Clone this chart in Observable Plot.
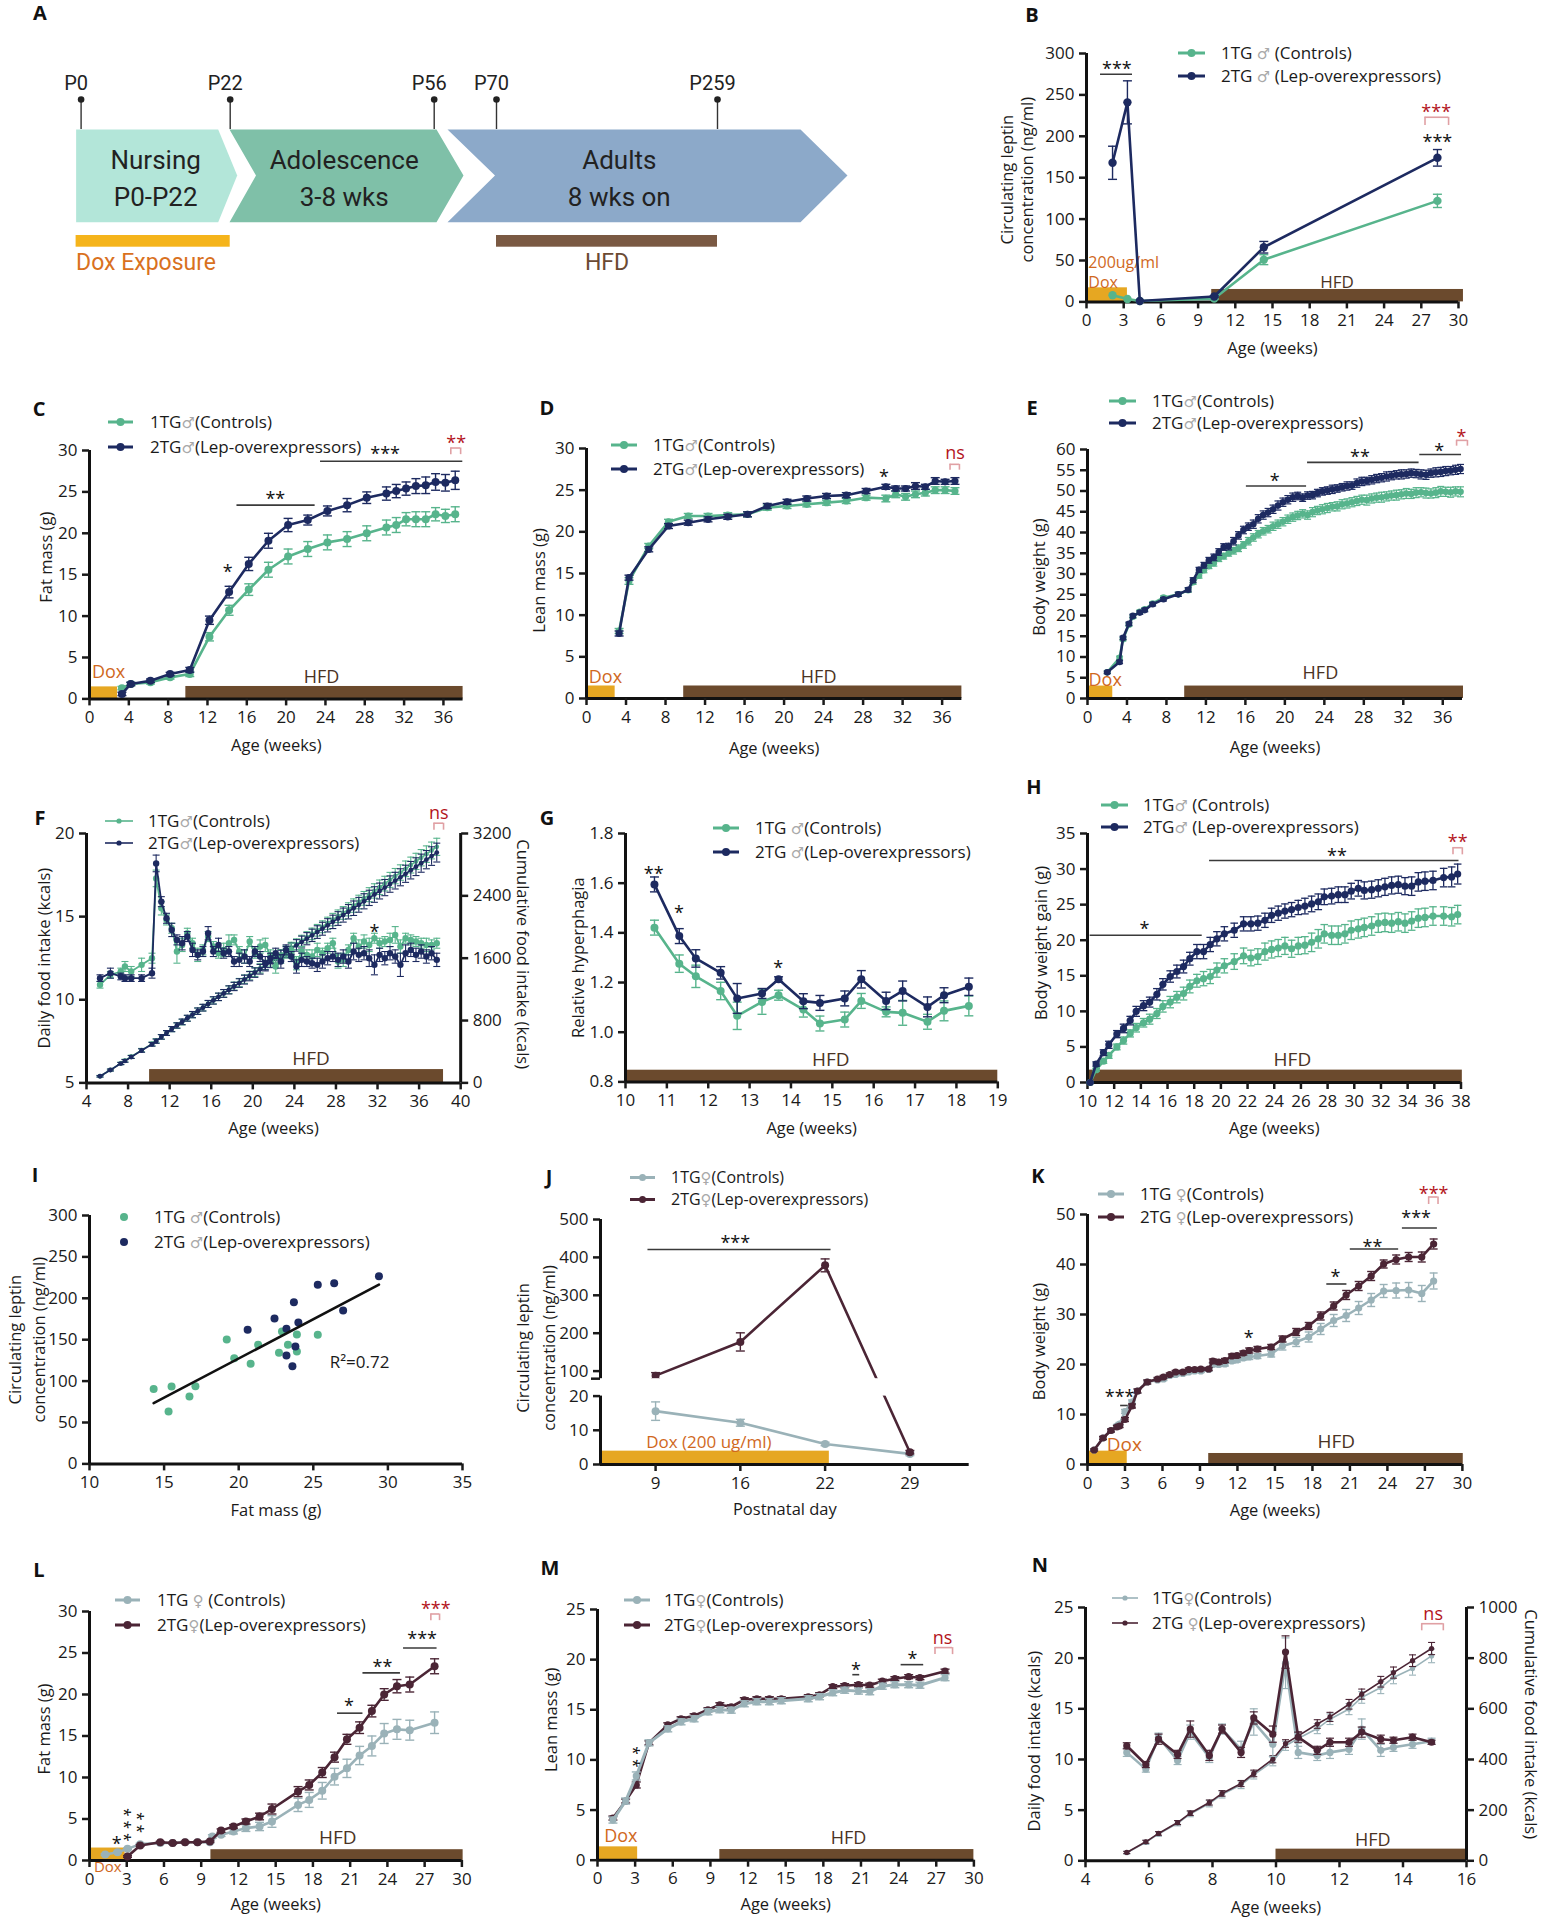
<!DOCTYPE html>
<html><head><meta charset="utf-8">
<script src="https://cdn.jsdelivr.net/npm/d3@7"></script>
<script src="https://cdn.jsdelivr.net/npm/@observablehq/plot@0.6"></script>
<style>
body{margin:0;background:#fff;}
#root{position:relative;width:1545px;height:1920px;overflow:hidden;background:#fff;font-family:"Open Sans",sans-serif;}
.pl{position:absolute;font:bold 20px "Open Sans",sans-serif;color:#111;transform:translate(-50%,-50%);line-height:1;}
.lg{position:absolute;white-space:nowrap;font:17px "Open Sans",sans-serif;color:#1a1a1a;line-height:24px;}
.sym{color:#a9a9a9;font-family:"DejaVu Sans",sans-serif;font-size:15px;}
</style></head><body><div id="root"></div>
<script>
// ======================= DATA =======================
// A – timeline
const milestoneDays = [0, 22, 56, 70, 259];
const milestoneLabels = ["P0", "P22", "P56", "P70", "P259"];
const stageNames = ["Nursing\nP0-P22", "Adolescence\n3-8 wks", "Adults\n8 wks on"];
const stageStart = [0, 22, 56];
const stageEnd = [22, 56, 259];
const stageLabelDay = [11, 41, 175];
const doxDaysA = [0, 22];
const hfdDaysA = [70, 259];

// B – circulating leptin (male)
const weeksB = [2.1, 3.3, 4.3, 10.3, 14.3, 28.3];
const ctrlB = [8, 3.5, 1, 4, 51, 122];
const ctrlErrB = [0, 0, 0, 1, 6, 8];
const lepB = [168, 241, 1, 6.5, 66, 174];
const lepErrB = [20, 26, 0, 1, 7, 10];

// C – fat mass (male)
const weeksC = [3.3, 4.2, 6.2, 8.2, 10.2, 12.2, 14.2, 16.2, 18.2, 20.2, 22.2, 24.2, 26.2, 28.2, 30.2, 31.2, 32.2, 33.2, 34.2, 35.2, 36.2, 37.2];
const ctrlC = [1.3, 1.8, 2.0, 2.6, 3.0, 7.5, 10.7, 13.2, 15.6, 17.2, 18.1, 18.9, 19.3, 20.0, 20.7, 21.0, 21.7, 21.7, 21.7, 22.3, 22.1, 22.3];
const ctrlErrC = [0.2, 0.2, 0.2, 0.2, 0.3, 0.5, 0.6, 0.7, 0.9, 0.9, 0.9, 0.9, 0.9, 0.9, 0.9, 0.9, 0.8, 0.9, 0.9, 0.8, 0.8, 0.9];
const lepC = [0.6, 1.8, 2.2, 3.0, 3.5, 9.5, 12.9, 16.3, 19.1, 21.0, 21.6, 22.7, 23.4, 24.3, 24.8, 25.1, 25.4, 25.7, 25.8, 26.2, 26.1, 26.4];
const lepErrC = [0.2, 0.2, 0.2, 0.2, 0.3, 0.5, 0.7, 0.8, 0.9, 0.8, 0.6, 0.6, 0.8, 0.7, 0.8, 0.8, 0.8, 0.9, 1.0, 1.0, 1.0, 1.1];

// D – lean mass (male)
const weeksD = [3.3, 4.3, 6.3, 8.3, 10.3, 12.3, 14.3, 16.3, 18.3, 20.3, 22.3, 24.3, 26.3, 28.3, 30.3, 31.3, 32.3, 33.3, 34.3, 35.3, 36.3, 37.3];
const ctrlD = [8.1, 14.1, 18.3, 21.2, 21.9, 21.9, 22.0, 22.1, 22.9, 23.1, 23.3, 23.5, 23.7, 24.1, 24.0, 24.5, 24.2, 24.5, 24.7, 25.0, 25.0, 24.9];
const ctrlErrD = [0.3, 0.4, 0.3, 0.3, 0.3, 0.3, 0.3, 0.3, 0.3, 0.3, 0.3, 0.3, 0.3, 0.3, 0.4, 0.4, 0.4, 0.4, 0.4, 0.4, 0.4, 0.4];
const lepD = [7.8, 14.5, 17.9, 20.7, 21.1, 21.5, 21.8, 22.1, 23.1, 23.6, 24.0, 24.3, 24.4, 24.9, 25.4, 25.2, 25.2, 25.5, 25.4, 26.1, 26.0, 26.1];
const lepErrD = [0.3, 0.3, 0.3, 0.3, 0.3, 0.3, 0.3, 0.3, 0.3, 0.3, 0.3, 0.3, 0.3, 0.3, 0.3, 0.3, 0.3, 0.4, 0.3, 0.4, 0.3, 0.4];

// E – body weight (male)
const weeksE = [2.0, 3.25, 3.6, 4.2, 4.6, 5.3, 5.8, 6.6, 7.7, 9.2, 10.2, 10.7, 11.3,
  11.8, 12.3, 12.8, 13.3, 13.8, 14.3, 14.8, 15.3, 15.8, 16.3, 16.8, 17.3, 17.8, 18.3, 18.8, 19.3, 19.8, 20.3, 20.8, 21.3, 21.8, 22.3, 22.8, 23.3, 23.8, 24.3, 24.8, 25.3, 25.8, 26.3, 26.8, 27.3, 27.8, 28.3, 28.8, 29.3, 29.8, 30.3, 30.8, 31.3, 31.8, 32.3, 32.8, 33.3, 33.8, 34.3, 34.8, 35.3, 35.8, 36.3, 36.8, 37.3, 37.8];
const ctrlE = [6.3, 9.8, 14.3, 17.8, 19.7, 20.9, 21.5, 22.9, 24.3, 25.1, 26.1, 28.0, 29.6,
  30.9, 31.9, 32.6, 33.7, 34.3, 35.0, 35.6, 36.2, 37.0, 37.9, 38.8, 39.6, 40.3, 40.8, 41.5, 42.0, 42.6, 43.2, 43.7, 44.1, 44.5, 44.2, 44.9, 45.3, 45.6, 45.9, 46.2, 46.3, 46.8, 47.0, 47.3, 47.6, 47.9, 47.8, 48.2, 48.4, 48.5, 48.7, 48.9, 49.0, 49.2, 49.4, 49.3, 49.6, 49.7, 49.5, 49.4, 49.6, 49.9, 49.8, 49.7, 49.9, 49.8];
const ctrlErrE = [0.3, 0.4, 0.4, 0.4, 0.4, 0.4, 0.4, 0.4, 0.4, 0.5, 0.5, 0.5, 0.6,
  0.6, 0.6, 0.7, 0.7, 0.7, 0.7, 0.8, 0.8, 0.8, 0.9, 0.9, 0.9, 0.9, 0.9, 1.0, 1.0, 1.0, 1.0, 1.0, 1.0, 1.0, 1.0, 1.1, 1.0, 1.1, 1.1, 1.0, 1.1, 1.1, 1.1, 1.1, 1.1, 1.1, 1.2, 1.1, 1.1, 1.2, 1.1, 1.1, 1.2, 1.1, 1.2, 1.1, 1.2, 1.1, 1.2, 1.1, 1.2, 1.2, 1.1, 1.2, 1.1, 1.2];
const lepE = [6.3, 8.8, 14.6, 18.0, 19.9, 20.7, 21.3, 22.7, 23.9, 25.1, 26.2, 28.5, 31.0,
  32.1, 33.3, 34.0, 35.3, 36.5, 36.6, 37.9, 39.3, 40.6, 41.4, 42.0, 43.3, 44.2, 44.8, 45.6, 46.5, 47.3, 47.9, 48.5, 48.8, 48.4, 48.9, 49.0, 49.5, 49.9, 50.1, 50.4, 50.6, 50.9, 51.2, 51.3, 51.9, 52.3, 52.4, 52.7, 53.0, 53.2, 53.5, 53.7, 53.9, 54.0, 54.1, 54.3, 54.2, 54.0, 53.9, 54.3, 54.5, 54.6, 54.8, 54.9, 55.1, 55.3];
const lepErrE = [0.3, 0.4, 0.4, 0.4, 0.4, 0.4, 0.4, 0.4, 0.4, 0.5, 0.5, 0.6, 0.6,
  0.7, 0.7, 0.8, 0.8, 0.8, 0.8, 0.9, 0.9, 0.9, 0.9, 1.0, 1.0, 1.0, 1.0, 1.0, 1.1, 1.0, 1.0, 1.0, 0.9, 0.9, 0.9, 0.9, 0.9, 0.9, 0.9, 1.0, 0.9, 0.9, 1.0, 0.9, 1.0, 1.0, 0.9, 1.0, 1.0, 1.0, 1.1, 1.0, 1.0, 1.1, 1.0, 1.0, 1.0, 1.1, 1.1, 1.0, 1.1, 1.1, 1.1, 1.0, 1.1, 1.1];

// F – daily & cumulative food intake (male)
const weeksF = [5.3, 6.3, 7.3, 7.7, 8.3, 9.3, 10.3, 10.7,
  11.2, 11.7, 12.2, 12.7, 13.2, 13.7, 14.2, 14.7, 15.2, 15.7, 16.2, 16.7, 17.2, 17.7, 18.2, 18.7, 19.2, 19.7, 20.2, 20.7, 21.2, 21.7, 22.2, 22.7, 23.2, 23.7, 24.2, 24.7, 25.2, 25.7, 26.2, 26.7, 27.2, 27.7, 28.2, 28.7, 29.2, 29.7, 30.2, 30.7, 31.2, 31.7, 32.2, 32.7, 33.2, 33.7, 34.2, 34.7, 35.2, 35.7, 36.2, 36.7, 37.2, 37.7];
const ctrlDailyF = [10.9, 11.5, 11.7, 12.0, 11.7, 12.1, 12.5, 17.3,
  15.5, 14.8, 14.3, 12.9, 13.3, 14.0, 13.4, 12.7, 13.0, 13.8, 13.2, 12.8, 13.0, 13.4, 13.6, 12.9, 12.6, 13.5, 12.8, 13.2, 13.3, 12.7, 12.0, 12.5, 12.8, 13.0, 12.2, 12.9, 12.7, 12.6, 13.0, 12.8, 13.1, 13.4, 12.3, 12.4, 13.0, 13.7, 13.2, 13.5, 13.3, 13.7, 13.4, 13.5, 13.6, 13.9, 13.2, 13.7, 13.6, 13.5, 13.4, 13.3, 13.3, 13.4];
const ctrlDailyErrF = [0.2, 0.2, 0.2, 0.3, 0.3, 0.4, 0.3, 0.5,
  0.4, 0.3, 0.3, 0.7, 0.4, 0.3, 0.3, 0.4, 0.3, 0.3, 0.3, 0.3, 0.4, 0.5, 0.3, 0.3, 0.4, 0.3, 0.3, 0.4, 0.4, 0.3, 0.4, 0.3, 0.3, 0.4, 0.4, 0.3, 0.3, 0.4, 0.4, 0.3, 0.3, 0.3, 0.4, 0.4, 0.3, 0.3, 0.4, 0.4, 0.4, 0.3, 0.3, 0.3, 0.4, 0.5, 0.4, 0.3, 0.3, 0.3, 0.3, 0.4, 0.3, 0.3];
const lepDailyF = [11.3, 11.6, 11.4, 11.3, 11.3, 11.3, 11.6, 18.2,
  15.9, 14.9, 14.2, 13.6, 13.4, 13.8, 13.0, 12.7, 12.9, 14.0, 12.9, 13.3, 12.8, 12.9, 12.3, 12.4, 12.6, 12.3, 12.9, 12.6, 12.2, 12.5, 12.8, 12.3, 13.0, 12.6, 12.0, 12.4, 12.3, 12.2, 12.1, 12.3, 12.5, 12.6, 12.4, 12.6, 12.3, 12.9, 12.7, 12.8, 12.5, 12.1, 12.7, 12.5, 12.8, 12.6, 12.1, 12.8, 13.0, 12.7, 12.9, 12.6, 12.8, 12.4];
const lepDailyErrF = [0.2, 0.3, 0.2, 0.2, 0.2, 0.2, 0.3, 0.5,
  0.3, 0.3, 0.4, 0.3, 0.4, 0.3, 0.4, 0.3, 0.3, 0.4, 0.3, 0.4, 0.3, 0.3, 0.3, 0.4, 0.4, 0.3, 0.3, 0.3, 0.4, 0.3, 0.3, 0.4, 0.3, 0.3, 0.4, 0.4, 0.3, 0.3, 0.4, 0.4, 0.4, 0.3, 0.4, 0.4, 0.4, 0.5, 0.4, 0.4, 0.5, 0.6, 0.4, 0.4, 0.4, 0.4, 0.7, 0.5, 0.4, 0.4, 0.4, 0.4, 0.4, 0.4];
const ctrlCumF = [85, 165, 250, 285, 335, 420, 500, 540,
  590, 640, 690, 735, 780, 828, 875, 920, 965, 1012, 1058, 1103, 1148, 1195, 1242, 1287, 1331, 1378, 1423, 1469, 1515, 1560, 1602, 1646, 1691, 1736, 1779, 1824, 1868, 1912, 1958, 2003, 2048, 2095, 2138, 2181, 2227, 2275, 2321, 2368, 2415, 2463, 2510, 2557, 2605, 2653, 2699, 2747, 2795, 2842, 2889, 2935, 2982, 3029];
const ctrlCumErrF = [10, 12, 15, 18, 20, 22, 25, 27,
  30, 31, 33, 35, 36, 37, 39, 41, 42, 43, 45, 47, 48, 49, 51, 53, 54, 55, 57, 59, 60, 61, 63, 64, 66, 68, 69, 70, 72, 74, 75, 76, 78, 80, 81, 82, 84, 86, 87, 88, 90, 92, 93, 94, 96, 98, 99, 100, 102, 104, 105, 106, 108, 110];
const lepCumF = [85, 165, 248, 282, 332, 415, 495, 535,
  590, 640, 690, 737, 783, 830, 876, 920, 965, 1013, 1058, 1104, 1148, 1193, 1237, 1281, 1325, 1369, 1414, 1458, 1501, 1545, 1590, 1633, 1678, 1722, 1764, 1807, 1850, 1893, 1935, 1978, 2022, 2066, 2109, 2153, 2196, 2241, 2285, 2330, 2374, 2417, 2462, 2506, 2551, 2595, 2638, 2683, 2729, 2774, 2819, 2864, 2910, 2955];
const lepCumErrF = [10, 12, 14, 17, 19, 22, 24, 27,
  29, 31, 33, 34, 36, 38, 40, 41, 43, 45, 47, 48, 50, 52, 53, 55, 57, 59, 60, 62, 64, 66, 67, 69, 71, 72, 74, 76, 78, 79, 81, 83, 85, 86, 88, 90, 92, 93, 95, 97, 98, 100, 102, 104, 105, 107, 109, 110, 112, 114, 116, 117, 119, 121];

// G – relative hyperphagia (male)
const weeksG = [10.7, 11.3, 11.7, 12.3, 12.7, 13.3, 13.7, 14.3, 14.7, 15.3, 15.7, 16.3, 16.7, 17.3, 17.7, 18.3];
const ctrlG = [1.421, 1.276, 1.225, 1.166, 1.066, 1.122, 1.149, 1.091, 1.035, 1.051, 1.126, 1.082, 1.078, 1.042, 1.086, 1.106];
const ctrlErrG = [0.03, 0.035, 0.045, 0.035, 0.055, 0.05, 0.02, 0.03, 0.03, 0.03, 0.03, 0.02, 0.05, 0.03, 0.04, 0.04];
const lepG = [1.595, 1.387, 1.297, 1.239, 1.136, 1.156, 1.213, 1.125, 1.118, 1.136, 1.213, 1.126, 1.166, 1.102, 1.149, 1.183];
const lepErrG = [0.03, 0.03, 0.035, 0.025, 0.06, 0.02, 0.01, 0.03, 0.03, 0.03, 0.035, 0.035, 0.04, 0.04, 0.03, 0.035];

// H – body weight gain (male)
const weeksH = [10.2, 10.65, 11.2, 11.6, 12.2, 12.7, 13.2, 13.65, 14.2, 14.66, 15.2, 15.65, 16.2, 16.7, 17.2, 17.67, 18.2, 18.7, 19.2, 19.7, 20.26, 21.0, 21.7, 22.25, 22.77, 23.3, 23.8, 24.3, 24.8, 25.3, 25.8, 26.3, 26.8, 27.3, 27.75, 28.3, 28.8, 29.3, 29.77, 30.3, 30.75, 31.3, 31.8, 32.3, 32.8, 33.3, 33.8, 34.3, 34.8, 35.3, 35.9, 36.7, 37.3, 37.75];
const ctrlH = [0, 1.8, 3.0, 3.8, 5.0, 5.9, 6.9, 7.7, 8.4, 8.9, 9.7, 10.7, 11.3, 12.0, 12.5, 13.5, 14.3, 14.6, 14.9, 15.8, 16.4, 17.0, 17.8, 17.5, 17.7, 18.4, 18.7, 18.9, 19.2, 18.8, 19.2, 19.3, 19.7, 20.2, 20.9, 20.7, 20.7, 20.9, 21.4, 21.6, 21.8, 22.0, 22.4, 22.5, 22.4, 22.6, 22.4, 22.7, 23.1, 23.2, 23.4, 23.4, 23.3, 23.6];
const ctrlErrH = [0.1, 0.2, 0.3, 0.4, 0.4, 0.5, 0.5, 0.6, 0.6, 0.7, 0.7, 0.8, 0.8, 0.8, 0.9, 0.9, 0.9, 1.0, 1.0, 1.0, 1.0, 1.1, 1.1, 1.1, 1.1, 1.2, 1.2, 1.2, 1.2, 1.2, 1.2, 1.2, 1.3, 1.3, 1.3, 1.3, 1.3, 1.3, 1.3, 1.3, 1.3, 1.3, 1.3, 1.3, 1.3, 1.3, 1.3, 1.3, 1.3, 1.3, 1.3, 1.3, 1.3, 1.3];
const lepH = [0, 2.6, 4.2, 5.3, 6.8, 7.6, 8.7, 10.0, 10.8, 11.3, 12.4, 13.8, 14.9, 15.6, 16.3, 17.4, 18.4, 18.4, 19.4, 20.2, 20.9, 21.4, 22.3, 22.3, 22.4, 22.8, 23.5, 23.8, 24.1, 24.3, 24.6, 24.8, 25.1, 25.4, 26.1, 26.2, 26.4, 26.4, 26.9, 27.3, 27.0, 27.1, 27.3, 27.5, 27.7, 27.8, 27.6, 27.6, 28.2, 28.3, 28.4, 28.8, 28.9, 29.3];
const lepErrH = [0.1, 0.3, 0.4, 0.5, 0.5, 0.6, 0.6, 0.7, 0.7, 0.7, 0.8, 0.8, 0.8, 0.9, 0.9, 0.9, 1.0, 1.0, 1.0, 1.0, 1.0, 1.0, 1.0, 1.0, 1.0, 1.0, 1.0, 1.0, 1.0, 1.0, 1.0, 1.1, 1.1, 1.1, 1.1, 1.1, 1.1, 1.1, 1.1, 1.1, 1.2, 1.2, 1.2, 1.2, 1.2, 1.2, 1.2, 1.3, 1.3, 1.3, 1.3, 1.3, 1.4, 1.4];

// I – leptin vs fat mass scatter (male)
const fatCtrlI = [14.3, 15.5, 15.3, 16.7, 17.1, 19.2, 19.7, 20.8, 21.3, 22.7, 22.9, 23.3, 23.9, 23.9, 25.3];
const leptinCtrlI = [90.6, 93.4, 63.2, 81.4, 93.8, 150.2, 127.7, 120.8, 143.8, 134.1, 159.9, 143.8, 156.3, 135.7, 155.9];
const fatLepI = [20.6, 22.4, 23.2, 23.2, 23.7, 23.6, 23.8, 24.0, 25.3, 26.4, 27.0, 29.4];
const leptinLepI = [161.9, 175.6, 163.1, 130.9, 195.3, 118.0, 141.8, 170.8, 216.3, 218.3, 185.3, 226.7];

// J – circulating leptin (female pups)
const daysJ = ["9", "16", "22", "29"];
const ctrlJ = [15.6, 12.2, 6.0, 3.1];
const ctrlErrJ = [2.7, 1.0, 0.5, 0.5];
const lepJ = [88, 177, 379, 3.6];
const lepErrJ = [8, 24, 17, 0.5];

// K – body weight (female)
const weeksK = [0.53, 1.24, 1.88, 2.35, 2.57, 3.0, 3.56, 4.0, 4.78, 5.6, 6.08, 6.58, 7.05, 7.63, 8.1, 8.57, 9.07, 9.7, 10.03, 10.5, 11.0, 11.55, 11.97, 12.47, 12.94, 13.6, 14.7, 15.6, 16.7, 17.7, 18.66, 19.7, 20.7, 21.7, 22.7, 23.7, 24.7, 25.7, 26.75, 27.7];
const ctrlK = [2.9, 5.3, 6.8, 7.7, 8.1, 10.6, 12.5, 14.7, 16.5, 16.9, 17.1, 17.8, 18.0, 18.2, 18.5, 18.7, 18.7, 19.0, 20.0, 20.0, 20.1, 20.7, 20.9, 21.3, 21.5, 21.7, 22.1, 23.7, 24.5, 25.5, 27.1, 28.8, 29.8, 31.3, 32.9, 34.7, 34.8, 34.9, 34.2, 36.7];
const ctrlErrK = [0.2, 0.3, 0.3, 0.3, 0.3, 0.4, 0.4, 0.4, 0.4, 0.3, 0.3, 0.3, 0.3, 0.3, 0.3, 0.3, 0.3, 0.3, 0.4, 0.4, 0.4, 0.4, 0.4, 0.4, 0.5, 0.5, 0.6, 0.8, 0.9, 1.0, 1.1, 1.2, 1.2, 1.3, 1.3, 1.3, 1.5, 1.5, 1.6, 1.6];
const lepK = [2.9, 5.3, 6.8, 7.5, 7.7, 9.0, 11.7, 14.7, 16.5, 17.1, 17.5, 18.0, 18.5, 18.5, 19.0, 19.0, 19.1, 19.1, 20.7, 20.5, 20.8, 21.7, 21.8, 22.3, 22.8, 23.1, 23.5, 25.1, 26.5, 27.7, 29.7, 31.7, 33.9, 35.7, 37.7, 40.1, 41.0, 41.5, 41.5, 44.1];
const lepErrK = [0.2, 0.3, 0.3, 0.3, 0.3, 0.4, 0.4, 0.4, 0.4, 0.3, 0.3, 0.3, 0.3, 0.3, 0.3, 0.3, 0.3, 0.3, 0.4, 0.4, 0.4, 0.4, 0.4, 0.4, 0.5, 0.5, 0.5, 0.6, 0.7, 0.7, 0.8, 0.8, 0.9, 0.9, 0.9, 0.8, 0.9, 0.9, 1.0, 1.0];

// L – fat mass (female)
const weeksCtrlL = [1.26, 2.26, 3.06, 4.08, 5.7, 6.7, 7.7, 8.7, 9.7, 9.9, 10.6, 11.6, 12.6, 13.7, 14.7, 16.8, 17.7, 18.75, 19.74, 20.74, 21.76, 22.75, 23.74, 24.77, 25.8, 27.8];
const ctrlL = [0.72, 1.0, 1.4, 1.97, 2.1, 2.1, 2.2, 2.2, 2.2, 2.9, 3.1, 3.5, 3.9, 4.1, 4.7, 6.7, 7.3, 8.4, 10.1, 11.1, 12.65, 13.8, 15.3, 15.8, 15.7, 16.6];
const ctrlErrL = [0.1, 0.1, 0.1, 0.1, 0.1, 0.1, 0.1, 0.1, 0.1, 0.2, 0.2, 0.3, 0.4, 0.5, 0.7, 0.8, 0.9, 1.0, 1.0, 1.1, 1.1, 1.2, 1.2, 1.2, 1.2, 1.3];
const weeksLepL = [3.06, 4.08, 5.7, 6.7, 7.7, 8.7, 9.7, 10.6, 11.6, 12.6, 13.7, 14.7, 16.8, 17.7, 18.75, 19.74, 20.74, 21.76, 22.75, 23.74, 24.77, 25.8, 27.8];
const lepL = [0.48, 1.8, 2.2, 2.1, 2.2, 2.2, 2.3, 3.6, 4.1, 4.7, 5.3, 6.2, 8.3, 9.1, 10.6, 12.45, 14.6, 16.0, 18.0, 20.0, 21.0, 21.2, 23.4];
const lepErrL = [0.1, 0.1, 0.1, 0.1, 0.1, 0.1, 0.1, 0.2, 0.2, 0.3, 0.4, 0.6, 0.6, 0.6, 0.6, 0.6, 0.6, 0.7, 0.7, 0.7, 0.8, 0.9, 0.9];

// M – lean mass (female)
const weeksM = [1.23, 2.24, 3.09, 4.1, 5.6, 6.66, 7.7, 8.8, 9.75, 10.66, 11.7, 12.7, 13.7, 14.65, 16.8, 17.7, 18.75, 19.7, 20.8, 21.7, 22.7, 23.7, 24.8, 25.7, 27.7];
const ctrlM = [4.0, 5.9, 8.4, 11.7, 13.1, 13.8, 14.1, 14.8, 15.0, 14.96, 15.6, 15.8, 15.8, 15.9, 16.1, 16.3, 16.7, 16.95, 16.86, 16.8, 17.35, 17.5, 17.5, 17.45, 18.2];
const ctrlErrM = [0.3, 0.3, 0.4, 0.3, 0.3, 0.3, 0.3, 0.3, 0.3, 0.3, 0.3, 0.3, 0.3, 0.3, 0.3, 0.3, 0.3, 0.3, 0.3, 0.3, 0.3, 0.3, 0.3, 0.3, 0.3];
const lepM = [4.2, 5.9, 7.5, 11.7, 13.5, 14.1, 14.4, 15.0, 15.5, 15.3, 16.0, 16.1, 16.1, 16.1, 16.3, 16.5, 17.3, 17.4, 17.5, 17.45, 17.85, 18.1, 18.3, 18.2, 18.85];
const lepErrM = [0.2, 0.2, 0.3, 0.2, 0.2, 0.2, 0.2, 0.2, 0.2, 0.2, 0.2, 0.2, 0.2, 0.2, 0.2, 0.2, 0.2, 0.2, 0.2, 0.2, 0.2, 0.2, 0.2, 0.2, 0.2];

// N – daily & cumulative food intake (female)
const weeksN = [5.3, 5.9, 6.3, 6.9, 7.3, 7.9, 8.3, 8.9, 9.3, 9.9, 10.3, 10.7, 11.3, 11.7, 12.3, 12.7, 13.3, 13.7, 14.3, 14.9];
const ctrlDailyN = [10.7, 9.05, 12.2, 9.9, 12.7, 10.2, 13.0, 11.0, 13.7, 11.5, 19.5, 10.7, 10.4, 10.7, 11.0, 13.0, 10.9, 11.2, 11.5, 11.8];
const ctrlDailyErrN = [0.4, 0.3, 0.4, 0.4, 0.7, 0.5, 0.5, 0.8, 1.3, 1.2, 2.5, 0.6, 0.5, 0.6, 0.5, 1.0, 0.6, 0.4, 0.4, 0.3];
const lepDailyN = [11.35, 9.5, 12.0, 10.5, 13.0, 10.4, 13.0, 10.7, 14.1, 12.5, 20.6, 12.2, 10.9, 11.7, 11.7, 12.7, 12.0, 11.9, 12.2, 11.7];
const lepDailyErrN = [0.3, 0.3, 0.5, 0.4, 0.8, 0.5, 0.4, 0.5, 0.6, 0.8, 1.6, 0.5, 0.4, 0.4, 0.4, 0.5, 0.4, 0.3, 0.3, 0.2];
const ctrlCumN = [32, 73, 106, 148, 185, 226, 262, 300, 339, 392, 454, 483, 522, 559, 599, 645, 684, 724, 759, 809];
const ctrlCumErrN = [6, 8, 9, 10, 11, 13, 14, 15, 16, 17, 18, 19, 20, 21, 22, 23, 24, 25, 26, 27];
const lepCumN = [33, 75, 108, 151, 188, 230, 266, 305, 345, 401, 463, 493, 540, 568, 618, 658, 707, 743, 790, 838];
const lepCumErrN = [4, 6, 7, 8, 9, 10, 11, 12, 13, 14, 15, 16, 17, 18, 19, 20, 21, 22, 23, 24];

// tick values
const ticks0to30by3 = [0, 3, 6, 9, 12, 15, 18, 21, 24, 27, 30];
const ticks0to36by4 = [0, 4, 8, 12, 16, 20, 24, 28, 32, 36];

// ======================= STYLE =======================
const COL = {green: "#57b48c", navy: "#1d2a60", grey: "#9ab2b8", maroon: "#4b2535",
  dox: "#e6a722", hfd: "#6b4a2d", doxTxt: "#d0681d", hfdTxt: "#4a3324", red: "#b3141c", redBr: "#e0a0a4"};
const STYLE = {fontFamily: '"Open Sans", sans-serif', fontSize: "17px", color: "#1a1a1a", background: "none", overflow: "visible", maxWidth: "none"};
const root = document.getElementById("root");

const capSymbol = {draw(ctx, size) { const w = Math.sqrt(size / Math.PI); ctx.moveTo(-w, 0); ctx.lineTo(w, 0); }};
const rows = (xs, ys, es) => xs.map((x, i) => ({x, y: ys[i], e: es ? es[i] : 0}));

function series(data, color, o = {}) {
  const {r = 3.6, sw = 2.6, ew = 1.4, cap = 4.5, ty = (v) => v} = o;
  const eb = data.filter((d) => d.e > 0);
  return [
    Plot.ruleX(eb, {x: "x", y1: (d) => ty(d.y - d.e), y2: (d) => ty(d.y + d.e), stroke: color, strokeWidth: ew}),
    Plot.dot(eb, {x: "x", y: (d) => ty(d.y - d.e), symbol: capSymbol, r: cap, stroke: color, strokeWidth: ew, fill: "none"}),
    Plot.dot(eb, {x: "x", y: (d) => ty(d.y + d.e), symbol: capSymbol, r: cap, stroke: color, strokeWidth: ew, fill: "none"}),
    Plot.line(data, {x: "x", y: (d) => ty(d.y), stroke: color, strokeWidth: sw}),
    Plot.dot(data, {x: "x", y: (d) => ty(d.y), fill: color, r})
  ];
}

const rectBand = (b, fill) => Plot.rect([b], {x1: (d) => d[0], x2: (d) => d[1], y1: (d) => d[2], y2: (d) => d[3], fill});
const label = (t, x, y, fill, anchor = "middle", size = 18) =>
  Plot.text([t], {x: () => x, y: () => y, text: (d) => d, fill, textAnchor: anchor, fontSize: size});

function sig(a) {
  const isStar = (d) => d.t.includes("*");
  return [
    Plot.ruleY(a.bars || [], {x1: "x1", x2: "x2", y: "y", stroke: "#3a3a3a", strokeWidth: 1.6}),
    Plot.text((a.texts || []).filter(isStar), {x: "x", y: "y", text: "t", fontSize: 18, fill: "#111", dy: 4}),
    // vertically stacked asterisks: one text, turned upright
    Plot.text(a.stacks || [], {x: "x", y: "y", text: "t", fontSize: 15.5, fill: "#111", rotate: 90, dx: -3.6}),
    Plot.ruleY(a.brackets || [], {x1: "x1", x2: "x2", y: "top", stroke: COL.redBr, strokeWidth: 1.6}),
    Plot.ruleX(a.brackets || [], {x: "x1", y1: "bot", y2: "top", stroke: COL.redBr, strokeWidth: 1.6}),
    Plot.ruleX(a.brackets || [], {x: "x2", y1: "bot", y2: "top", stroke: COL.redBr, strokeWidth: 1.6}),
    Plot.text((a.red || []).filter(isStar), {x: "x", y: "y", text: "t", fontSize: 18, fill: COL.red, dy: 4}),
    Plot.text((a.red || []).filter((d) => !isStar(d)), {x: "x", y: "y", text: "t", fontSize: 18, fill: COL.red})
  ];
}

function frame(g, o) {
  const out = [];
  if (!o.noYSpine) out.push(Plot.ruleX([g.xd[0]], {stroke: "#111", strokeWidth: 3}));
  if (o.rightTicks) out.push(Plot.ruleX([g.xd[1]], {stroke: "#111", strokeWidth: 3}));
  out.push(Plot.ruleY([o.y0 ?? g.yd[0]], {stroke: "#111", strokeWidth: 3}));
  out.push(Plot.axisX(o.xTicks, {anchor: "bottom", tickSize: 7, strokeWidth: 2.5, tickPadding: 5, tickFormat: o.xFmt, label: null}));
  out.push(Plot.axisY(o.yTicks, {anchor: "left", tickSize: 7, strokeWidth: 2.5, tickPadding: 5, tickFormat: o.yFmt, label: null}));
  if (o.rightTicks) out.push(Plot.axisY(o.rightTicks, {anchor: "right", tickSize: 7, strokeWidth: 2.5, tickPadding: 5, tickFormat: o.rightFmt, label: null}));
  out.push(Plot.text([o.xLabel], {text: (d) => d, frameAnchor: "bottom", dy: o.xDy, fontSize: 16.5, textAnchor: "middle", lineAnchor: "middle"}));
  out.push(Plot.text([o.yLabel], {text: (d) => d, frameAnchor: "left", rotate: -90, dx: -o.yDx, dy: o.yDy || 0, fontSize: 16.5,
    lineHeight: o.yLH || 1.2, textAnchor: "middle", lineAnchor: "middle"}));
  if (o.rLabel) out.push(Plot.text([o.rLabel], {text: (d) => d, frameAnchor: "right", rotate: 90, dx: o.rDx, dy: o.rDy || 0, fontSize: 16.5,
    textAnchor: "middle", lineAnchor: "middle"}));
  return out;
}

function panel(g, marks, yOpt) {
  const ml = 90, mr = 40, mt = 60, mb = 70;
  const width = ml + (g.R - g.L) + mr, height = mt + (g.B - g.T) + mb;
  const y = yOpt ? yOpt(mt) : {domain: g.yd};
  const svg = Plot.plot({width, height, marginLeft: ml, marginRight: mr, marginTop: mt, marginBottom: mb,
    x: {domain: g.xd, label: null}, y: {label: null, ...y}, style: STYLE, marks});
  const div = document.createElement("div");
  div.style.cssText = `position:absolute;left:${g.L - ml}px;top:${g.T - mt}px;width:${width}px;height:${height}px;`;
  div.appendChild(svg);
  root.appendChild(div);
}
function safe(fn) { try { fn(); } catch (e) { console.error(e); } }

// ======================= PANEL A =======================
safe(function () {
  const aRange = [80.6, 229.7, 433.7, 496, 717];
  const sx = d3.scaleLinear().domain(milestoneDays).range(aRange);
  const yTop = 69, yMid = 115, yBot = 161.7;
  const stageFill = ["#b3e6d9", "#7fc0a8", "#8ca9c9"];
  const geom = [[-5, 0, -12, 19], [-0.7, 26.5, 2.3, 27], [13.3, 47.5, 83, 47]]; // px offsets: left, notch, right, tip
  const polys = stageStart.map((s, i) => {
    const [lo, notch, ro, tip] = geom[i];
    const left = sx(s) + lo, right = sx(stageEnd[i]) + ro;
    return [[left, yTop], [right, yTop], [right + tip, yMid], [right, yBot], [left, yBot], [left + notch, yMid]]
      .map(([px, py]) => ({x: sx.invert(px), y: py}));
  });
  const svg = Plot.plot({
    width: 880, height: 230, margin: 0,
    x: {type: "linear", domain: milestoneDays, range: aRange, axis: null},
    y: {type: "identity", axis: null},
    style: {...STYLE, fontFamily: "Roboto, sans-serif"},
    marks: [
      ...polys.map((p, i) => Plot.line(p, {x: "x", y: "y", fill: stageFill[i], stroke: "none", curve: "linear-closed"})),
      Plot.ruleX(milestoneDays, {x: (d) => d, y1: 39, y2: yTop, stroke: "#333", strokeWidth: 1.4}),
      Plot.dot(milestoneDays, {x: (d) => d, y: 39, r: 3.3, fill: "#222"}),
      Plot.text(milestoneLabels, {x: (d, i) => milestoneDays[i], y: 23.3, text: (d) => d, fontSize: 20, dx: -5, fill: "#222"}),
      Plot.text(stageNames, {x: (d, i) => stageLabelDay[i], y: yMid, text: (d) => d, fontSize: 26, lineHeight: 1.41, fill: "#222"}),
      Plot.rect([doxDaysA], {x1: (d) => d[0], x2: (d) => d[1], y1: 175, y2: 186.7, fill: "#f5b41b", insetLeft: -5}),
      Plot.rect([hfdDaysA], {x1: (d) => d[0], x2: (d) => d[1], y1: 175, y2: 186.7, fill: "#7a5943"}),
      Plot.text(["Dox Exposure"], {x: () => doxDaysA[0], y: 201.7, text: (d) => d, textAnchor: "start", dx: -5, fontSize: 23, fill: "#d9711e"}),
      Plot.text(["HFD"], {x: () => (hfdDaysA[0] + hfdDaysA[1]) / 2, y: 201.7, text: (d) => d, fontSize: 23, fill: "#6b4a33"})
    ]
  });
  const div = document.createElement("div");
  div.style.cssText = "position:absolute;left:0;top:60px;width:880px;height:230px;";
  div.appendChild(svg);
  root.appendChild(div);
});

// ======================= PANEL B =======================
safe(function () {
  const g = {L: 1086, R: 1458, T: 53.3, B: 301.7, xd: [0, 30], yd: [0, 300]};
  panel(g, [
    rectBand([0, 3.3, 0, 17], COL.dox),
    rectBand([10.1, 30.4, 0, 15], COL.hfd),
    ...frame(g, {xTicks: ticks0to30by3, yTicks: [0, 50, 100, 150, 200, 250, 300], xLabel: "Age (weeks)", xDy: 46.6,
      yLabel: "Circulating leptin\nconcentration (ng/ml)", yDx: 70.3, yLH: 1.22, yDy: 2}),
    label("200ug/ml", 0.15, 46.7, COL.doxTxt, "start", 16),
    label("Dox", 0.15, 22.6, COL.doxTxt, "start", 16),
    label("HFD", 20.2, 23.8, COL.hfdTxt, "middle", 17),
    ...series(rows(weeksB, ctrlB, ctrlErrB), COL.green, {r: 4.2}),
    ...series(rows(weeksB, lepB, lepErrB), COL.navy, {r: 4.2}),
    ...sig({bars: [{x1: 1.13, x2: 3.71, y: 275}], texts: [{x: 2.45, y: 286, t: "***"}, {x: 28.3, y: 197.7, t: "***"}],
      red: [{x: 28.2, y: 234, t: "***"}], brackets: [{x1: 27.3, x2: 29.2, top: 223, bot: 213}]})
  ]);
});

// ======================= PANEL C =======================
safe(function () {
  const g = {L: 89.3, R: 462.9, T: 450.3, B: 698.7, xd: [0, 38], yd: [0, 30]};
  panel(g, [
    rectBand([0, 2.85, 0, 1.45], COL.dox),
    rectBand([9.8, 38, 0, 1.5], COL.hfd),
    ...frame(g, {xTicks: ticks0to36by4, yTicks: [0, 5, 10, 15, 20, 25, 30], xLabel: "Age (weeks)", xDy: 46.6,
      yLabel: "Fat mass (g)", yDx: 44.3, yDy: -17.5}),
    label("Dox", 0.25, 3.2, COL.doxTxt, "start"),
    label("HFD", 23.6, 2.6, COL.hfdTxt),
    ...series(rows(weeksC, ctrlC, ctrlErrC), COL.green, {r: 4}),
    ...series(rows(weeksC, lepC, lepErrC), COL.navy, {r: 4}),
    ...sig({bars: [{x1: 15.0, x2: 22.95, y: 23.4}, {x1: 23.5, x2: 37.97, y: 28.7}],
      texts: [{x: 14.07, y: 15.8, t: "*"}, {x: 18.9, y: 24.6, t: "**"}, {x: 30.07, y: 30.0, t: "***"}],
      red: [{x: 37.3, y: 31.4, t: "**"}], brackets: [{x1: 36.75, x2: 37.75, top: 30.3, bot: 29.5}]})
  ]);
});

// ======================= PANEL D =======================
safe(function () {
  const g = {L: 586, R: 961.4, T: 448.3, B: 698.3, xd: [0, 38], yd: [0, 30]};
  panel(g, [
    rectBand([0, 2.9, 0, 1.5], COL.dox),
    rectBand([9.84, 38, 0, 1.5], COL.hfd),
    ...frame(g, {xTicks: ticks0to36by4, yTicks: [0, 5, 10, 15, 20, 25, 30], xLabel: "Age (weeks)", xDy: 50,
      yLabel: "Lean mass (g)", yDx: 47.7, yDy: 7}),
    label("Dox", 0.23, 2.6, COL.doxTxt, "start"),
    label("HFD", 23.5, 2.6, COL.hfdTxt),
    ...series(rows(weeksD, ctrlD, ctrlErrD), COL.green, {r: 3.6}),
    ...series(rows(weeksD, lepD, lepErrD), COL.navy, {r: 3.6}),
    ...sig({texts: [{x: 30.1, y: 27.0, t: "*"}], red: [{x: 37.3, y: 29.4, t: "ns"}],
      brackets: [{x1: 36.8, x2: 37.75, top: 28.1, bot: 27.4}]})
  ]);
});

// ======================= PANEL E =======================
safe(function () {
  const g = {L: 1086.6, R: 1461.6, T: 449.3, B: 698.3, xd: [0, 38], yd: [0, 60]};
  panel(g, [
    rectBand([0, 2.56, 0, 3], COL.dox),
    rectBand([9.85, 38.1, 0, 3], COL.hfd),
    ...frame(g, {xTicks: ticks0to36by4, yTicks: [0, 5, 10, 15, 20, 25, 30, 35, 40, 45, 50, 55, 60], xLabel: "Age (weeks)", xDy: 49.4,
      yLabel: "Body weight (g)", yDx: 48.6, yDy: 3}),
    label("Dox", 0.1, 4.4, COL.doxTxt, "start"),
    label("HFD", 23.6, 6.0, COL.hfdTxt),
    ...series(rows(weeksE, ctrlE, ctrlErrE), COL.green, {r: 3.3, cap: 3.5, ew: 1.2}),
    ...series(rows(weeksE, lepE, lepErrE), COL.navy, {r: 3.3, cap: 3.5, ew: 1.2}),
    ...sig({bars: [{x1: 16.1, x2: 22.2, y: 51.2}, {x1: 22.3, x2: 33.6, y: 56.9}, {x1: 33.67, x2: 37.9, y: 58.8}],
      texts: [{x: 18.98, y: 53.4, t: "*"}, {x: 27.6, y: 59.0, t: "**"}, {x: 35.65, y: 60.6, t: "*"}],
      red: [{x: 37.9, y: 63.9, t: "*"}], brackets: [{x1: 37.4, x2: 38.5, top: 62.2, bot: 60.8}]})
  ]);
});

// ======================= PANEL F =======================
safe(function () {
  const g = {L: 86.4, R: 460.6, T: 833.3, B: 1082.7, xd: [4, 40], yd: [5, 20]};
  const toL = (c) => 5 + c * 15 / 3200, fromL = (v) => String(Math.round((v - 5) * 3200 / 15));
  panel(g, [
    rectBand([10.07, 38.35, 5, 5.8], COL.hfd),
    ...frame(g, {xTicks: [4, 8, 12, 16, 20, 24, 28, 32, 36, 40], yTicks: [5, 10, 15, 20], xLabel: "Age (weeks)", xDy: 45.6,
      yLabel: "Daily food intake (kcals)", yDx: 43.2, rightTicks: [0, 800, 1600, 2400, 3200].map(toL), rightFmt: fromL,
      rLabel: "Cumulative food intake (kcals)", rDx: 61.2, rDy: -4}),
    label("HFD", 25.6, 6.47, COL.hfdTxt, "middle", 19),
    ...series(rows(weeksF, ctrlCumF, ctrlCumErrF), COL.green, {r: 2.4, sw: 1.6, ew: 1.1, cap: 3.5, ty: toL}),
    ...series(rows(weeksF, lepCumF, lepCumErrF), COL.navy, {r: 2.4, sw: 1.6, ew: 1.1, cap: 3.5, ty: toL}),
    ...series(rows(weeksF, ctrlDailyF, ctrlDailyErrF), COL.green, {r: 3.2, sw: 1.8, ew: 1.1, cap: 3.5}),
    ...series(rows(weeksF, lepDailyF, lepDailyErrF), COL.navy, {r: 3.2, sw: 1.8, ew: 1.1, cap: 3.5}),
    ...sig({texts: [{x: 31.7, y: 14.29, t: "*"}], red: [{x: 37.9, y: 21.24, t: "ns"}],
      brackets: [{x1: 37.43, x2: 38.35, top: 20.62, bot: 20.2}]})
  ]);
});

// ======================= PANEL G =======================
safe(function () {
  const g = {L: 625, R: 997.3, T: 833.3, B: 1081.7, xd: [10, 19], yd: [0.8, 1.8]};
  panel(g, [
    rectBand([10, 19, 0.8, 0.847], COL.hfd),
    ...frame(g, {xTicks: [10, 11, 12, 13, 14, 15, 16, 17, 18, 19], yTicks: [0.8, 1.0, 1.2, 1.4, 1.6, 1.8], yFmt: d3.format(".1f"),
      xLabel: "Age (weeks)", xDy: 46.6, yLabel: "Relative hyperphagia", yDx: 48.3}),
    label("HFD", 14.96, 0.887, COL.hfdTxt, "middle", 19),
    ...series(rows(weeksG, ctrlG, ctrlErrG), COL.green, {r: 4}),
    ...series(rows(weeksG, lepG, lepErrG), COL.navy, {r: 4}),
    ...sig({texts: [{x: 10.68, y: 1.652, t: "**"}, {x: 11.29, y: 1.494, t: "*"}, {x: 13.69, y: 1.274, t: "*"}]})
  ]);
});

// ======================= PANEL H =======================
safe(function () {
  const g = {L: 1086.9, R: 1460.4, T: 833, B: 1082, xd: [10, 38], yd: [0, 35]};
  panel(g, [
    rectBand([10, 38.1, 0, 1.74], COL.hfd),
    ...frame(g, {xTicks: [10, 12, 14, 16, 18, 20, 22, 24, 26, 28, 30, 32, 34, 36, 38], yTicks: [0, 5, 10, 15, 20, 25, 30, 35],
      xLabel: "Age (weeks)", xDy: 46, yLabel: "Body weight gain (g)", yDx: 47.3, yDy: -15}),
    label("HFD", 25.36, 3.2, COL.hfdTxt, "middle", 19),
    ...series(rows(weeksH, ctrlH, ctrlErrH), COL.green, {r: 3.6, cap: 3.8, ew: 1.3}),
    ...series(rows(weeksH, lepH, lepErrH), COL.navy, {r: 3.6, cap: 3.8, ew: 1.3}),
    ...sig({bars: [{x1: 10.2, x2: 18.6, y: 20.7}, {x1: 19.15, x2: 37.85, y: 31.2}],
      texts: [{x: 14.27, y: 22.1, t: "*"}, {x: 28.7, y: 32.3, t: "**"}],
      red: [{x: 37.75, y: 34.3, t: "**"}], brackets: [{x1: 37.4, x2: 38.1, top: 33.0, bot: 32.0}]})
  ]);
});

// ======================= PANEL I =======================
safe(function () {
  const g = {L: 89, R: 462, T: 1215.3, B: 1463.7, xd: [10, 35], yd: [0, 300]};
  const ctrl = fatCtrlI.map((x, i) => ({x, y: leptinCtrlI[i]}));
  const lep = fatLepI.map((x, i) => ({x, y: leptinLepI[i]}));
  panel(g, [
    ...frame(g, {xTicks: [10, 15, 20, 25, 30, 35], yTicks: [0, 50, 100, 150, 200, 250, 300], xLabel: "Fat mass (g)", xDy: 46.6,
      yLabel: "Circulating leptin\nconcentration (ng/ml)", yDx: 64.5, yLH: 1.5}),
    Plot.dot(ctrl, {x: "x", y: "y", fill: COL.green, r: 4}),
    Plot.dot(lep, {x: "x", y: "y", fill: COL.navy, r: 4}),
    Plot.linearRegressionY([...ctrl, ...lep], {x: "x", y: "y", ci: 0, stroke: "#111", strokeWidth: 2.6}),
    label("R²=0.72", 26.1, 123, "#1a1a1a", "start", 17)
  ]);
});

// ======================= PANEL J =======================
safe(function () {
  const g = {L: 600, R: 968.7, T: 1218.7, B: 1463.7, xd: [-0.65, 3.7]};
  const breakJ = [20, 80];
  const idx = daysJ.map((d, i) => i);
  panel(g, [
    rectBand([-0.65, 2.05, 0, 3.9], COL.dox),
    ...frame(g, {xTicks: idx, xFmt: (i) => daysJ[i], yTicks: [0, 10, 20, 100, 200, 300, 400, 500], y0: 0, noYSpine: true,
      xLabel: "Postnatal day", xDy: 45, yLabel: "Circulating leptin\nconcentration (ng/ml)", yDx: 67, yLH: 1.56, yDy: 6}),
    Plot.axisY([80], {anchor: "left", tickSize: 9, strokeWidth: 2.5, tickFormat: () => "", label: null}),
    label("Dox (200 ug/ml)", -0.11, 6.3, COL.doxTxt, "start", 17),
    ...series(rows(idx, ctrlJ, ctrlErrJ), COL.grey, {r: 4}),
    ...series(rows(idx, lepJ, lepErrJ), COL.maroon, {r: 4}),
    Plot.rect([breakJ], {y1: (d) => d[0], y2: (d) => d[1], fill: "white"}),
    Plot.ruleX([g.xd[0]], {y1: 0, y2: breakJ[0], stroke: "#111", strokeWidth: 3}),
    Plot.ruleX([g.xd[0]], {y1: breakJ[1], y2: 500, stroke: "#111", strokeWidth: 3}),
    ...sig({bars: [{x1: -0.09, x2: 2.07, y: 420.9}], texts: [{x: 0.94, y: 449, t: "***"}]})
  ], (mt) => {
    const h = g.B - g.T;
    return {type: "linear", domain: [0, breakJ[0], breakJ[1], 500], range: [mt + h, mt + (1395.3 - g.T), mt + (1377.9 - g.T), mt]};
  });
});

// ======================= PANEL K =======================
safe(function () {
  const g = {L: 1086.9, R: 1461.8, T: 1213.7, B: 1463.7, xd: [0, 30], yd: [0, 50]};
  panel(g, [
    rectBand([0, 3.18, 0, 2.67], COL.dox),
    rectBand([9.7, 30.07, 0, 2.2], COL.hfd),
    ...frame(g, {xTicks: ticks0to30by3, yTicks: [0, 10, 20, 30, 40, 50], xLabel: "Age (weeks)", xDy: 46.6,
      yLabel: "Body weight (g)", yDx: 49.1, yDy: 2}),
    label("Dox", 1.54, 4.0, COL.doxTxt, "start", 19),
    label("HFD", 19.9, 4.5, COL.hfdTxt, "middle", 19),
    ...series(rows(weeksK, ctrlK, ctrlErrK), COL.grey, {r: 3.6, cap: 4}),
    ...series(rows(weeksK, lepK, lepErrK), COL.maroon, {r: 3.6, cap: 4}),
    ...sig({bars: [{x1: 2.65, x2: 3.26, y: 11.8}, {x1: 19.15, x2: 20.76, y: 36.1}, {x1: 21.03, x2: 24.9, y: 43.1}, {x1: 25.2, x2: 28.0, y: 47.3}],
      texts: [{x: 2.57, y: 14.3, t: "***"}, {x: 12.9, y: 26, t: "*"}, {x: 19.85, y: 38.3, t: "*"}, {x: 22.8, y: 44.3, t: "**"}, {x: 26.3, y: 50, t: "***"}],
      red: [{x: 27.7, y: 54.9, t: "***"}], brackets: [{x1: 27.3, x2: 28.05, top: 53.5, bot: 52}]})
  ]);
});

// ======================= PANEL L =======================
safe(function () {
  const g = {L: 89.3, R: 461.7, T: 1611, B: 1860, xd: [0, 30], yd: [0, 30]};
  panel(g, [
    rectBand([0, 2.87, 0, 1.5], COL.dox),
    rectBand([9.78, 30.1, 0, 1.3], COL.hfd),
    ...frame(g, {xTicks: ticks0to30by3, yTicks: [0, 5, 10, 15, 20, 25, 30], xLabel: "Age (weeks)", xDy: 44.3,
      yLabel: "Fat mass (g)", yDx: 46, yDy: -7}),
    label("Dox", 1.47, -0.85, COL.doxTxt, "middle", 15),
    label("HFD", 20.0, 2.7, COL.hfdTxt, "middle", 19),
    ...series(rows(weeksCtrlL, ctrlL, ctrlErrL), COL.grey, {r: 4}),
    ...series(rows(weeksLepL, lepL, lepErrL), COL.maroon, {r: 4}),
    ...sig({bars: [{x1: 19.98, x2: 22.03, y: 17.75}, {x1: 22.03, x2: 25.05, y: 22.6}, {x1: 25.3, x2: 28.0, y: 25.6}],
      texts: [{x: 2.2, y: 2.4, t: "*"}, {x: 20.9, y: 19.1, t: "*"}, {x: 23.6, y: 23.8, t: "**"}, {x: 26.8, y: 27.1, t: "***"}],
      stacks: [{x: 3.06, y: 4.31, t: "* * *"}, {x: 4.08, y: 4.58, t: "* *"}],
      red: [{x: 27.9, y: 30.8, t: "***"}], brackets: [{x1: 27.5, x2: 28.2, top: 29.7, bot: 28.9}]})
  ]);
});

// ======================= PANEL M =======================
safe(function () {
  const g = {L: 596.9, R: 973.3, T: 1609.3, B: 1860, xd: [0, 30], yd: [0, 25]};
  panel(g, [
    rectBand([0, 3.2, 0, 1.33], COL.dox),
    rectBand([9.75, 30, 0, 1.06], COL.hfd),
    ...frame(g, {xTicks: ticks0to30by3, yTicks: [0, 5, 10, 15, 20, 25], xLabel: "Age (weeks)", xDy: 44.3,
      yLabel: "Lean mass (g)", yDx: 46.9, yDy: -15}),
    label("Dox", 1.86, 2.4, COL.doxTxt, "middle", 18),
    label("HFD", 20, 2.2, COL.hfdTxt, "middle", 18),
    ...series(rows(weeksM, lepM, lepErrM), COL.maroon, {r: 3.6}),
    ...series(rows(weeksM, ctrlM, ctrlErrM), COL.grey, {r: 3.6, sw: 3}),
    ...sig({bars: [{x1: 20.35, x2: 20.9, y: 18.5}, {x1: 24.2, x2: 26.0, y: 19.5}],
      texts: [{x: 20.6, y: 19.3, t: "*"}, {x: 25.1, y: 20.4, t: "*"}],
      stacks: [{x: 3.09, y: 10.3, t: "* *"}],
      red: [{x: 27.5, y: 22.1, t: "ns"}], brackets: [{x1: 26.9, x2: 28.3, top: 21.2, bot: 20.5}]})
  ]);
});

// ======================= PANEL N =======================
safe(function () {
  const g = {L: 1084.9, R: 1465.9, T: 1606.7, B: 1860, xd: [4, 16], yd: [0, 25]};
  const toL = (c) => c * 25 / 1000, fromL = (v) => String(Math.round(v * 1000 / 25));
  panel(g, [
    rectBand([10, 16, 0, 1.15], COL.hfd),
    ...frame(g, {xTicks: [4, 6, 8, 10, 12, 14, 16], yTicks: [0, 5, 10, 15, 20, 25], xLabel: "Age (weeks)", xDy: 46.7,
      yLabel: "Daily food intake (kcals)", yDx: 52.1, yDy: 7, rightTicks: [0, 200, 400, 600, 800, 1000].map(toL), rightFmt: fromL,
      rLabel: "Cumulative food intake (kcals)", rDx: 63.5, rDy: -10}),
    label("HFD", 13.05, 2.0, COL.hfdTxt, "middle", 18),
    ...series(rows(weeksN, ctrlCumN, ctrlCumErrN), COL.grey, {r: 2.6, sw: 1.6, ew: 1.1, cap: 3.5, ty: toL}),
    ...series(rows(weeksN, lepCumN, lepCumErrN), COL.maroon, {r: 2.6, sw: 1.6, ew: 1.1, cap: 3.5, ty: toL}),
    ...series(rows(weeksN, ctrlDailyN, ctrlDailyErrN), COL.grey, {r: 3.6, sw: 2.6, ew: 1.2, cap: 4}),
    ...series(rows(weeksN, lepDailyN, lepDailyErrN), COL.maroon, {r: 3.6, sw: 2.6, ew: 1.2, cap: 4}),
    ...sig({red: [{x: 14.95, y: 24.35, t: "ns"}], brackets: [{x1: 14.59, x2: 15.27, top: 23.4, bot: 22.7}]})
  ]);
});

// ======================= LEGENDS & PANEL LETTERS =======================
const ov = d3.select(root).append("svg").attr("width", 1545).attr("height", 1920)
  .style("position", "absolute").style("left", "0px").style("top", "0px").style("pointer-events", "none");
function legendRow(x1, x2, tx, y, color, text, o = {}) {
  const {r = 4, sw = 3, line = true, size = 17} = o;
  if (line) ov.append("line").attr("x1", x1).attr("x2", x2).attr("y1", y).attr("y2", y).attr("stroke", color).attr("stroke-width", sw);
  ov.append("circle").attr("cx", (x1 + x2) / 2).attr("cy", y).attr("r", r).attr("fill", color);
  const div = document.createElement("div");
  div.className = "lg";
  div.style.fontSize = size + "px";
  div.style.lineHeight = "20px";
  div.style.left = tx + "px";
  div.style.top = (y - 10.5) + "px";
  div.innerHTML = text.replace(/([♂♀])/g, '<span class="sym">$1</span>');
  root.appendChild(div);
}
legendRow(1178, 1205, 1221, 53, COL.green, "1TG ♂ (Controls)");
legendRow(1178, 1205, 1221, 76, COL.navy, "2TG ♂  (Lep-overexpressors)");
legendRow(108, 133, 150, 422, COL.green, "1TG♂(Controls)");
legendRow(108, 133, 150, 447, COL.navy, "2TG♂(Lep-overexpressors)");
legendRow(611, 637, 653, 445, COL.green, "1TG♂(Controls)");
legendRow(611, 637, 653, 469, COL.navy, "2TG♂(Lep-overexpressors)");
legendRow(1109, 1136, 1152, 401, COL.green, "1TG♂(Controls)");
legendRow(1109, 1136, 1152, 423, COL.navy, "2TG♂(Lep-overexpressors)");
legendRow(105, 133, 148, 821, COL.green, "1TG♂(Controls)", {r: 2.6, sw: 1.6});
legendRow(105, 133, 148, 843, COL.navy, "2TG♂(Lep-overexpressors)", {r: 2.6, sw: 1.6});
legendRow(713, 739, 755, 828, COL.green, "1TG ♂(Controls)");
legendRow(713, 739, 755, 852, COL.navy, "2TG ♂(Lep-overexpressors)");
legendRow(1101, 1128, 1143, 805, COL.green, "1TG♂ (Controls)");
legendRow(1101, 1128, 1143, 827, COL.navy, "2TG♂ (Lep-overexpressors)");
legendRow(124, 124, 154, 1217, COL.green, "1TG ♂(Controls)", {line: false});
legendRow(124, 124, 154, 1242, COL.navy, "2TG ♂(Lep-overexpressors)", {line: false});
legendRow(630, 655, 671, 1177.5, COL.grey, "1TG♀(Controls)", {r: 3.5, size: 16});
legendRow(630, 655, 671, 1199.5, COL.maroon, "2TG♀(Lep-overexpressors)", {r: 3.5, size: 16});
legendRow(1098, 1124, 1140, 1194, COL.grey, "1TG ♀(Controls)");
legendRow(1098, 1124, 1140, 1217, COL.maroon, "2TG ♀(Lep-overexpressors)");
legendRow(115, 140, 157, 1600, COL.grey, "1TG ♀  (Controls)");
legendRow(115, 140, 157, 1625, COL.maroon, "2TG♀(Lep-overexpressors)");
legendRow(624, 650, 664, 1600, COL.grey, "1TG♀(Controls)");
legendRow(624, 650, 664, 1625, COL.maroon, "2TG♀(Lep-overexpressors)");
legendRow(1112, 1138, 1152, 1598, COL.grey, "1TG♀(Controls)", {r: 2.6, sw: 1.6});
legendRow(1112, 1138, 1152, 1623, COL.maroon, "2TG ♀(Lep-overexpressors)", {r: 2.6, sw: 1.6});

const panelLetters = [["A", 40, 13], ["B", 1032, 15], ["C", 39, 409], ["D", 547, 408], ["E", 1032, 408],
  ["F", 40, 818], ["G", 547, 818], ["H", 1034, 787], ["I", 35, 1175], ["J", 549, 1177], ["K", 1038, 1176],
  ["L", 39, 1570], ["M", 550, 1568], ["N", 1040, 1565]];
for (const [t, x, y] of panelLetters) {
  const d = document.createElement("div");
  d.className = "pl"; d.textContent = t; d.style.left = x + "px"; d.style.top = y + "px";
  root.appendChild(d);
}
</script></body></html>
